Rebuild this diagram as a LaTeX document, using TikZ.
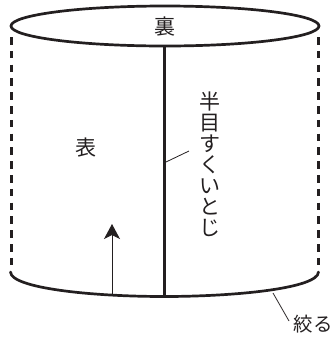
\documentclass[tikz,border=0pt]{standalone}
\usepackage{fontspec}
\newfontfamily\cjk{Noto Sans CJK JP}
\usetikzlibrary{arrows.meta}
\definecolor{ink}{HTML}{231F20}
\tikzset{
  x=1pt,y=-1pt,
  heavy/.style={draw=ink,line width=2.7pt},
  dashside/.style={draw=ink,line width=2.8pt,dash pattern=on 7.5pt off 6.3pt},
  thinleader/.style={draw=ink,line width=0.8pt},
  label/.style={text=ink,inner sep=0pt,font=\cjk\fontsize{21}{21}\selectfont},
  vlabel/.style={label,align=center,font=\cjk\fontsize{21}{21}\selectfont},
  endlabel/.style={text=ink,inner sep=0pt,font=\cjk\fontsize{19.5}{19.5}\selectfont},
}
\begin{document}
\begin{tikzpicture}
\useasboundingbox (0,0) rectangle (334,338);
\draw[dashside] (11.2,37) -- (11.2,269);
\draw[dashside] (318.5,37) -- (318.5,269);
\draw[heavy,line cap=round] (10.5,272) .. controls (11,288) and (90,296.5) .. (164,296.5)
  .. controls (238,296.5) and (318,288) .. (318.5,272);
\draw[heavy] (164.2,46) -- (164.2,296);
\draw[heavy,fill=white] (165,26) ellipse [x radius=154,y radius=20];
\coordinate (arrowfoot) at (112,296);
\coordinate (arrowtip) at (112,224);
\draw[draw=ink,line width=1pt,-{Stealth[length=15pt,width=16pt,inset=4pt]}] (arrowfoot) -- (arrowtip);
\node[label] (ura) at (165,26.5) {裏};
\node[label] (omote) at (86,148) {表};
\node[vlabel] (seam) at (209.5,164.5) {半\\目\\す\\く\\い\\と\\じ};
\node[endlabel,anchor=east] (shiboru) at (333,324) {絞る};
\coordinate (a1) at (166,162);
\coordinate (a2) at (189,151);
\draw[thinleader] (a1) -- (a2);
\coordinate (b1) at (273,293);
\coordinate (b2) at (289,321);
\draw[thinleader] (b1) -- (b2);
\end{tikzpicture}
\end{document}
